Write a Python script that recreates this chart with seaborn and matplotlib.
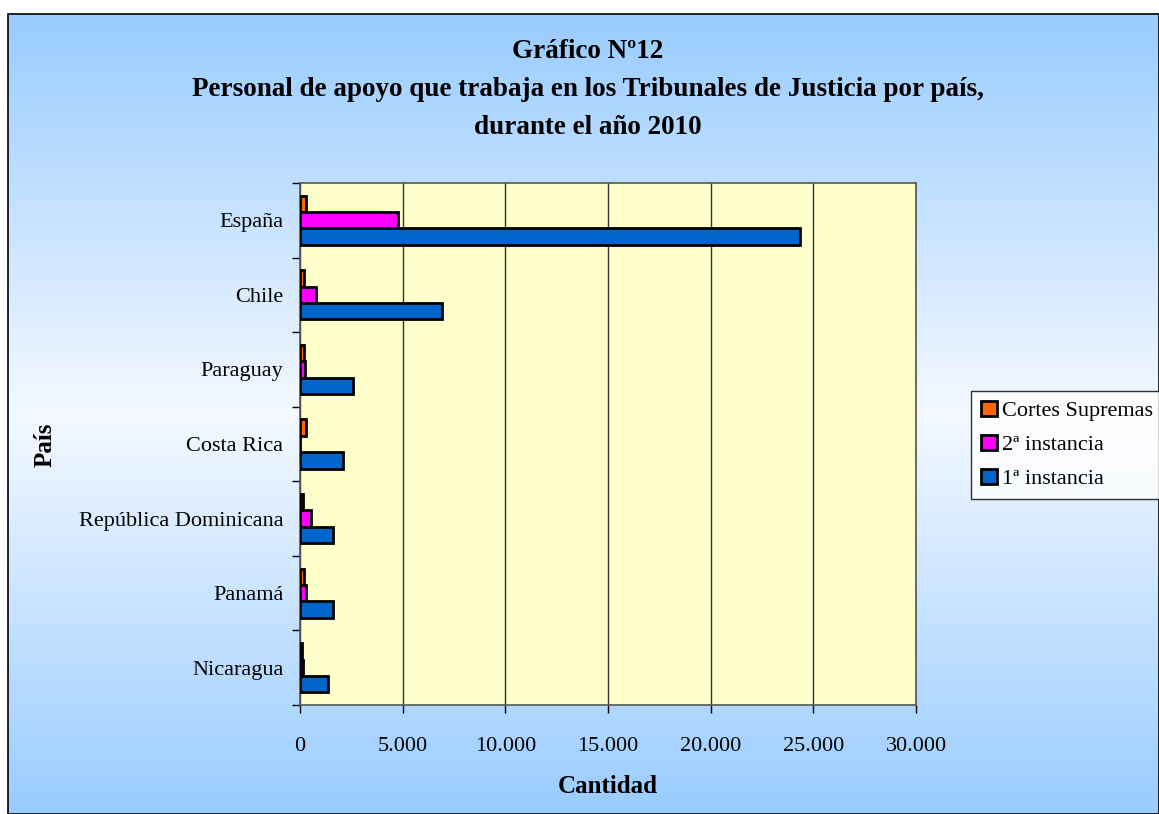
import numpy as np
import pandas as pd
import matplotlib.pyplot as plt
import seaborn as sns
from matplotlib.patches import Rectangle
from matplotlib.colors import LinearSegmentedColormap

# Data
paises = ['España', 'Chile', 'Paraguay', 'Costa Rica',
          'República Dominicana', 'Panamá', 'Nicaragua']
cortes_supremas = [280, 200, 180, 280, 170, 190, 80]
segunda_instancia = [4780, 760, 260, 0, 560, 300, 140]
primera_instancia = [24350, 6900, 2560, 2100, 1610, 1630, 1380]
series = ['Cortes Supremas', '2ª instancia', '1ª instancia']
x_ticks = [0, 5000, 10000, 15000, 20000, 25000, 30000]

df = pd.DataFrame({
    'País': paises * 3,
    'Serie': [series[0]] * 7 + [series[1]] * 7 + [series[2]] * 7,
    'Cantidad': cortes_supremas + segunda_instancia + primera_instancia,
})

sns.set_style('white')
plt.rcParams['font.family'] = ['Liberation Serif', 'DejaVu Serif']
plt.rcParams['text.color'] = 'black'
plt.rcParams['axes.labelcolor'] = 'black'
plt.rcParams['xtick.color'] = 'black'
plt.rcParams['ytick.color'] = 'black'

fig = plt.figure(figsize=(11.59, 8.14), dpi=100)

# background gradient (blue -> white -> blue) inside the frame
bg = fig.add_axes([8 / 1159, 0, 1 - 8 / 1159, 1 - 14 / 814], zorder=0)
cmap = LinearSegmentedColormap.from_list('bg', ['#99CCFF', '#F4F9FF', '#99CCFF'])
grad = np.linspace(0, 1, 256).reshape(-1, 1)
bg.imshow(grad, aspect='auto', cmap=cmap, extent=[0, 1, 0, 1])
bg.set_axis_off()
fig.patches.append(Rectangle((8 / 1159, 0), 1 - 8 / 1159, 1 - 14 / 814,
                             transform=fig.transFigure, fill=False,
                             edgecolor='black', linewidth=1.2, zorder=5))

ax = fig.add_axes([300 / 1159, 1 - 705 / 814, 616 / 1159, 522 / 814], zorder=2)
ax.set_facecolor('#FFFFCC')

palette = {'Cortes Supremas': '#FF6600', '2ª instancia': '#FF00FF',
           '1ª instancia': '#0066CC'}
sns.barplot(data=df, y='País', x='Cantidad', hue='Serie', hue_order=series,
            order=paises, palette=palette, orient='h', width=0.66,
            edgecolor='black', linewidth=2, saturation=1, ax=ax, zorder=3)

ax.set_xlim(0, 30000)
ax.set_xticks(x_ticks)
ax.set_xticklabels(['0'] + [f'{v:,}'.replace(',', '.') for v in x_ticks[1:]],
                   fontsize=16)
ax.xaxis.grid(True, color='#333333', linewidth=1)
ax.set_axisbelow(True)
ax.set_ylim(len(paises) - 0.5, -0.5)
ax.set_yticks(range(len(paises)))
ax.set_yticklabels(paises, fontsize=16)
ax.set_yticks(np.arange(-0.5, len(paises), 1), minor=True)
ax.tick_params(axis='y', which='major', length=0, pad=12)
ax.tick_params(axis='y', which='minor', length=6, width=1, direction='out', left=True)
ax.tick_params(axis='x', length=6, width=1, direction='out', bottom=True, pad=17)
for s in ax.spines.values():
    s.set_color('#555555')
    s.set_linewidth(1.2)

ax.set_xlabel('Cantidad', fontsize=18, fontweight='bold', labelpad=14)
ax.set_ylabel('')
fig.text(45 / 1159, 1 - 445 / 814, 'País', rotation=90, fontsize=18,
         fontweight='bold', ha='center', va='center')

fig.text(0.507, 1 - 52 / 814, 'Gráfico Nº12', fontsize=19.5, fontweight='bold',
         ha='center', va='center')
fig.text(0.507, 1 - 90 / 814,
         'Personal de apoyo que trabaja en los Tribunales de Justicia por país,',
         fontsize=19.5, fontweight='bold', ha='center', va='center')
fig.text(0.507, 1 - 127 / 814, 'durante el año 2010', fontsize=19.5,
         fontweight='bold', ha='center', va='center')

handles, labels = ax.get_legend_handles_labels()
ax.legend_.remove()
leg = fig.legend(handles, labels, loc='center left',
                 bbox_to_anchor=(971 / 1159, 1 - 445 / 814), fontsize=16,
                 frameon=True, fancybox=False, edgecolor='black',
                 handlelength=0.7, handleheight=0.7, handletextpad=0.25,
                 labelspacing=0.6, borderpad=0.45, borderaxespad=0)
leg.get_frame().set_linewidth(1)
leg.get_frame().set_facecolor('white')
leg.set_zorder(6)

fig.savefig('out.png', dpi=100)
